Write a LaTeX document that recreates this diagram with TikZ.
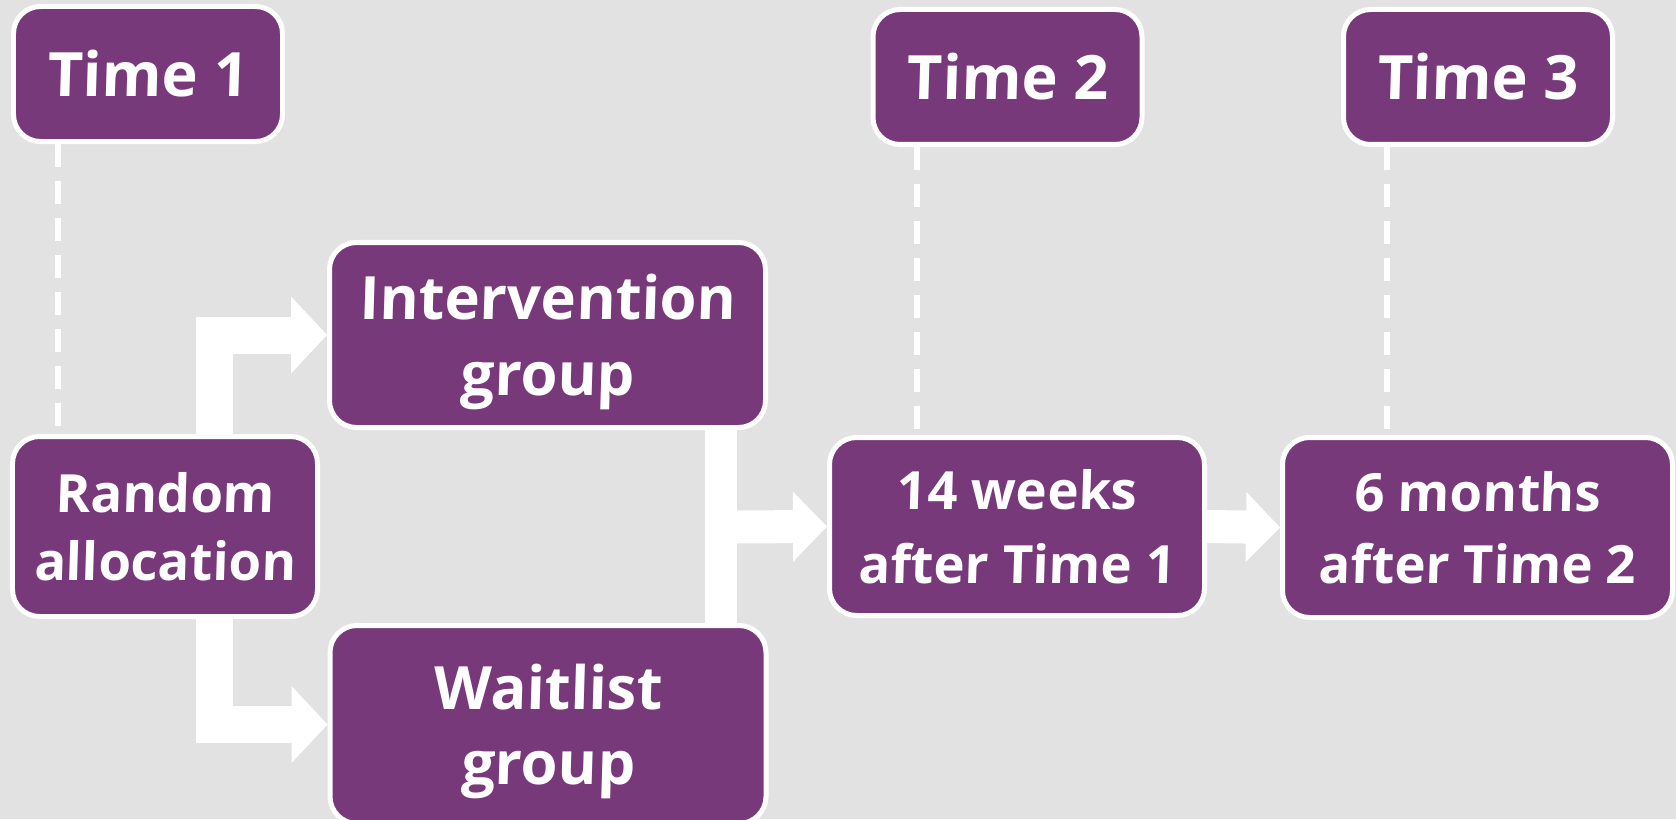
\documentclass[tikz,border=0pt]{standalone}
\usepackage{fontspec}
\newfontfamily\boxfont{Open Sans}[BoldFeatures={FakeSlant=0.03}]
\usetikzlibrary{arrows.meta}
\definecolor{boxpurple}{RGB}{120,57,123}
\definecolor{bggray}{RGB}{226,226,226}
\tikzset{
  box/.style={rounded corners=0.27cm, fill=boxpurple, draw=white, line width=0.05cm,
    text=white, align=center, inner sep=0pt},
  timebox/.style={box, minimum width=2.69cm, minimum height=1.35cm,
    font=\boxfont\bfseries\fontsize{17.4}{21}\selectfont},
  groupbox/.style={box, minimum width=4.36cm, minimum height=1.85cm, text depth=0pt,
    font=\boxfont\bfseries\fontsize{17}{21.5}\selectfont},
  stepbox/.style={box, minimum height=1.80cm,
    font=\boxfont\bfseries\fontsize{15}{19.5}\selectfont},
  timeline/.style={white, line width=0.06cm, dash pattern=on 0.23cm off 0.14cm},
  fatarrow/.style={white, line width=0.33cm,
    -{Triangle[width=0.70cm,length=0.34cm,line width=0pt]}},
}

\begin{document}
\begin{tikzpicture}
\useasboundingbox (0.000,0.000) rectangle (16.760,8.190);
\fill[bggray] (0.000,0.000) rectangle (16.760,8.190);
\node[timebox] (t1) at (1.480,7.450) {Time 1};
\node[timebox] (t2) at (10.075,7.420) {Time 2};
\node[timebox] (t3) at (14.780,7.420) {Time 3};
\node[stepbox, minimum width=3.05cm] (rand) at (1.650,2.925) {Random\\allocation};
\node[groupbox] (interv) at (5.475,4.840) {Intervention\\group};
\node[groupbox, minimum height=1.98cm] (wait) at (5.480,0.945) {Waitlist\\group};
\node[stepbox, minimum width=3.75cm, minimum height=1.78cm,
  font=\boxfont\bfseries\fontsize{15}{21}\selectfont] (wk14) at (10.170,2.925) {14 weeks\\after Time 1};
\node[stepbox, minimum width=3.90cm,
  font=\boxfont\bfseries\fontsize{15}{20.5}\selectfont] (mo6) at (14.775,2.915) {6 months\\after Time 2};
\coordinate (split) at (2.140,2.925);
\coordinate (merge) at (7.210,2.920);
\draw[timeline] ([xshift=-0.900cm]t1.south) -- ([xshift=-0.900cm]t1.south |- rand.north);
\draw[timeline] ([xshift=-0.905cm]t2.south) -- ([xshift=-0.905cm]t2.south |- wk14.north);
\draw[timeline] ([xshift=-0.910cm]t3.south) -- ([xshift=-0.910cm]t3.south |- mo6.north);
\draw[fatarrow, line width=0.37cm, -{Triangle[width=0.77cm,length=0.36cm,line width=0pt]}]
  (split |- rand.north) |- (interv.west);
\draw[fatarrow, line width=0.37cm, -{Triangle[width=0.77cm,length=0.36cm,line width=0pt]}]
  (split |- rand.south) |- (wait.west);
\draw[white, line width=0.32cm] (merge |- interv.south) -- (merge |- wait.north);
\draw[fatarrow] (merge) -- (wk14.west);
\draw[fatarrow] (wk14.east) -- (mo6.west);
\end{tikzpicture}
\end{document}
